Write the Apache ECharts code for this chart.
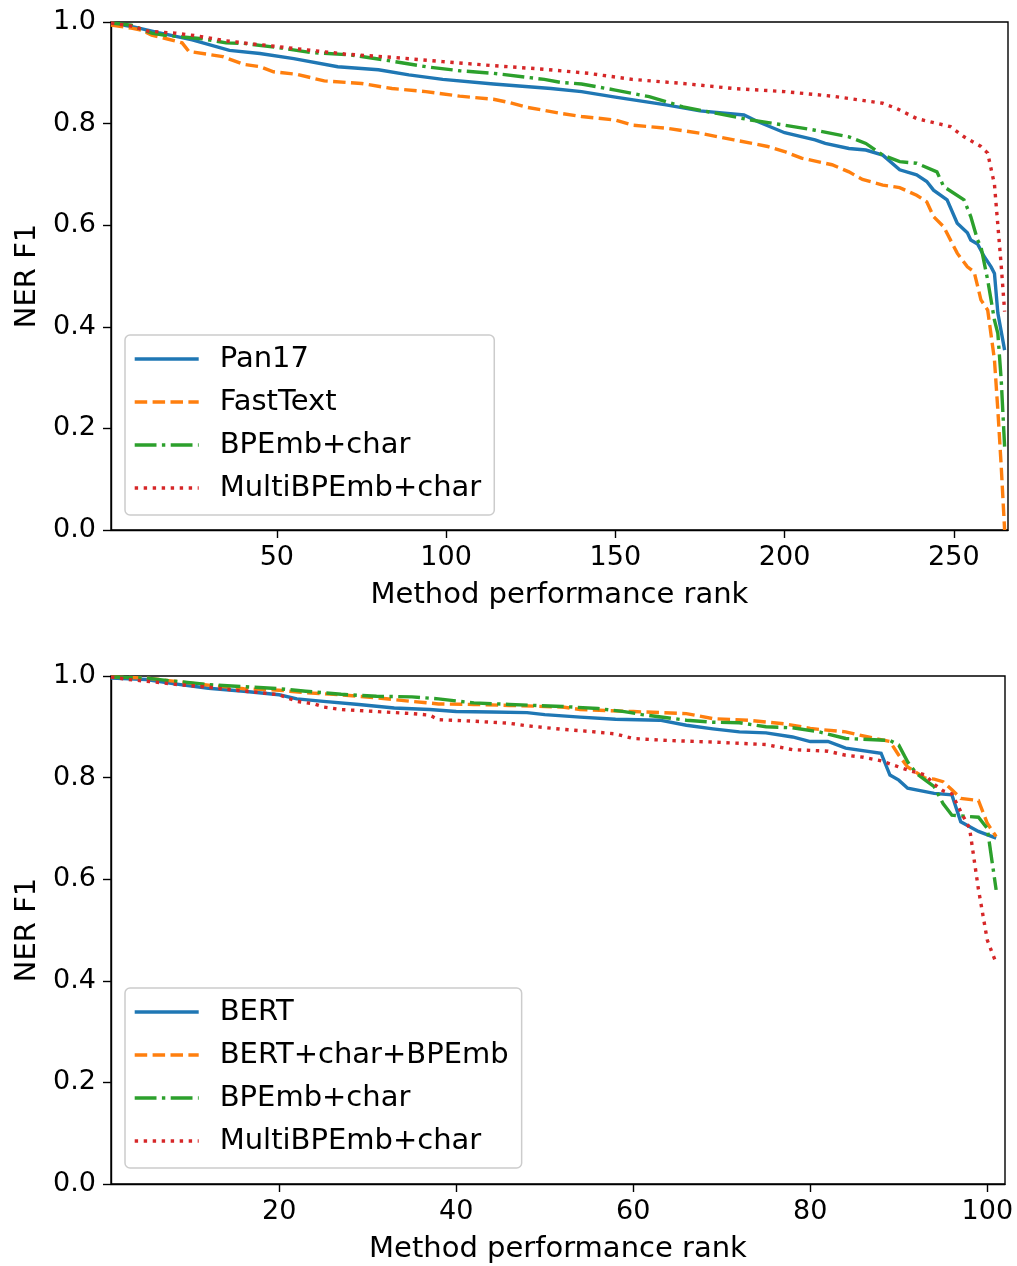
<!DOCTYPE html>
<html>
<head>
<meta charset="utf-8">
<script src="https://cdn.jsdelivr.net/npm/echarts@6/dist/echarts.min.js"></script>
<style>
html,body{margin:0;padding:0;background:#fff;}
#chart{width:1017px;height:1266px;}
</style>
</head>
<body>
<div id="chart"></div>
<script>
// ---- Top panel data: [rank, NER F1] ----
const topPan17 = [[1,0.998],[8,0.99],[15,0.979],[25,0.965],[36,0.944],[45,0.938],[55,0.928],[68,0.912],[80,0.906],[89,0.896],[99,0.887],[114,0.878],[131,0.869],[140,0.863],[150,0.852],[165,0.837],[175,0.825],[188,0.817],[192,0.804],[200,0.782],[209,0.768],[212,0.761],[219,0.751],[224,0.748],[229,0.738],[234,0.709],[239,0.699],[242,0.686],[244,0.669],[248,0.65],[251,0.604],[254,0.585],[255,0.571],[257,0.563],[259,0.538],[261,0.518],[262,0.505],[263,0.427],[265,0.354]];
const topFastText = [[1,0.994],[7,0.988],[10,0.984],[13,0.974],[18,0.966],[22,0.959],[24,0.942],[30,0.936],[34,0.932],[40,0.917],[45,0.912],[49,0.902],[56,0.897],[64,0.884],[75,0.879],[84,0.869],[94,0.863],[104,0.854],[114,0.848],[119,0.841],[124,0.832],[134,0.82],[140,0.814],[150,0.807],[155,0.797],[165,0.791],[175,0.781],[185,0.768],[195,0.755],[200,0.745],[205,0.732],[214,0.719],[219,0.705],[223,0.69],[229,0.679],[234,0.674],[239,0.659],[242,0.646],[244,0.617],[247,0.597],[251,0.545],[254,0.518],[256,0.508],[258,0.453],[260,0.433],[262,0.335],[263,0.236],[264,0.125],[265,0.0]];
const topBPEmb = [[1,0.998],[7,0.994],[13,0.978],[17,0.974],[23,0.97],[28,0.967],[35,0.959],[40,0.958],[50,0.95],[60,0.94],[72,0.935],[83,0.924],[94,0.912],[104,0.904],[114,0.899],[129,0.887],[134,0.881],[140,0.878],[150,0.866],[160,0.853],[170,0.833],[180,0.82],[190,0.807],[200,0.797],[209,0.787],[219,0.774],[224,0.761],[229,0.738],[234,0.725],[239,0.722],[245,0.705],[247,0.676],[253,0.65],[255,0.617],[257,0.571],[258,0.558],[260,0.492],[262,0.413],[263,0.387],[264,0.295],[265,0.164]];
const topMulti = [[1,0.998],[7,0.992],[12,0.982],[20,0.978],[26,0.973],[35,0.963],[40,0.959],[55,0.948],[70,0.937],[85,0.93],[99,0.922],[114,0.914],[129,0.907],[142,0.899],[155,0.887],[170,0.879],[185,0.869],[200,0.863],[214,0.854],[229,0.84],[233,0.83],[239,0.81],[249,0.794],[253,0.774],[258,0.755],[260,0.742],[262,0.68],[263,0.6],[264,0.52],[265,0.43]];

// ---- Bottom panel data: [rank, NER F1] ----
const botBERT = [[1,0.996],[5,0.993],[8,0.985],[12,0.976],[16,0.97],[20,0.963],[22,0.955],[25,0.95],[29,0.944],[33,0.937],[37,0.934],[40,0.93],[44,0.929],[48,0.928],[50,0.924],[54,0.919],[58,0.915],[63,0.913],[66,0.903],[69,0.896],[72,0.89],[75,0.888],[78,0.88],[80,0.871],[82,0.871],[84,0.858],[88,0.848],[89,0.805],[90,0.795],[91,0.779],[94,0.769],[96,0.766],[97,0.713],[99,0.694],[101,0.681]];
const botBERTchar = [[1,0.998],[5,0.996],[8,0.99],[12,0.982],[16,0.975],[20,0.972],[23,0.967],[27,0.963],[31,0.957],[35,0.95],[38,0.945],[42,0.944],[46,0.942],[52,0.939],[54,0.934],[60,0.93],[66,0.926],[69,0.916],[73,0.913],[77,0.906],[80,0.897],[81,0.895],[84,0.89],[86,0.882],[89,0.871],[90,0.844],[91,0.821],[93,0.799],[94,0.797],[95,0.792],[96,0.776],[97,0.759],[99,0.755],[100,0.71],[101,0.684]];
const botBPEmb = [[1,0.998],[5,0.996],[8,0.99],[11,0.985],[12,0.983],[20,0.975],[23,0.97],[27,0.964],[31,0.96],[35,0.959],[38,0.955],[42,0.947],[46,0.944],[52,0.94],[56,0.936],[59,0.93],[61,0.924],[66,0.913],[69,0.909],[72,0.908],[75,0.9],[78,0.898],[81,0.89],[84,0.877],[89,0.873],[90,0.864],[91,0.831],[92,0.808],[93,0.795],[94,0.782],[95,0.749],[96,0.726],[99,0.722],[100,0.7],[101,0.579]];
const botMulti = [[1,0.998],[3,0.993],[6,0.988],[8,0.984],[10,0.981],[12,0.978],[15,0.972],[18,0.967],[20,0.963],[22,0.95],[24,0.945],[25,0.939],[27,0.934],[31,0.93],[35,0.926],[37,0.923],[38,0.914],[42,0.911],[46,0.907],[48,0.902],[52,0.895],[55,0.891],[58,0.886],[60,0.877],[64,0.873],[69,0.87],[75,0.865],[78,0.855],[82,0.852],[84,0.844],[86,0.84],[88,0.833],[90,0.821],[91,0.815],[93,0.805],[94,0.787],[95,0.774],[96,0.768],[97,0.733],[98,0.7],[99,0.58],[100,0.48],[101,0.435]];

// ---- tick labels ----
const topXTicks = [50, 100, 150, 200, 250];
const botXTicks = [20, 40, 60, 80, 100];
const topNames = ['Pan17', 'FastText', 'BPEmb+char', 'MultiBPEmb+char'];
const botNames = ['BERT', 'BERT+char+BPEmb', 'BPEmb+char', 'MultiBPEmb+char'];

const FONT = 'DejaVu Sans';
const LW = 3.4;
const styles = [
  {color: '#1f77b4', type: 'solid'},
  {color: '#ff7f0e', type: [12.5, 5.4]},
  {color: '#2ca02c', type: [21.8, 5.4, 3.4, 5.4]},
  {color: '#d62728', type: [3.4, 5.6]}
];

function mkSeries(name, data, idx, styleIdx) {
  const s = styles[styleIdx];
  return {
    type: 'line', name: name, data: data,
    xAxisIndex: idx, yAxisIndex: idx,
    symbol: 'none', showSymbol: false,
    color: s.color,
    lineStyle: {color: s.color, width: LW, type: s.type, cap: 'butt', join: 'miter'},
    z: 2 + styleIdx
  };
}

function mkX(idx, min, max, ticks) {
  return {
    type: 'value', gridIndex: idx, min: min, max: max,
    name: 'Method performance rank', nameLocation: 'middle', nameGap: 51,
    nameTextStyle: {fontFamily: FONT, fontSize: 29, color: '#000'},
    axisLine: {show: true, onZero: false, lineStyle: {color: '#000', width: 1.4}},
    axisTick: {show: true, length: 8, lineStyle: {color: '#000', width: 1.4}, customValues: ticks},
    axisLabel: {fontFamily: FONT, fontSize: 27, color: '#000', margin: 14, customValues: ticks},
    splitLine: {show: false}
  };
}
function mkY(idx) {
  return {
    type: 'value', gridIndex: idx, min: 0, max: 1, interval: 0.2,
    name: 'NER F1', nameLocation: 'middle', nameGap: 69, nameRotate: 90,
    nameTextStyle: {fontFamily: FONT, fontSize: 29, color: '#000'},
    axisLine: {show: true, onZero: false, lineStyle: {color: '#000', width: 1.4}},
    axisTick: {show: true, length: 8, lineStyle: {color: '#000', width: 1.4}},
    axisLabel: {fontFamily: FONT, fontSize: 27, color: '#000', margin: 15, formatter: v => v.toFixed(1)},
    splitLine: {show: false}
  };
}
function mkLegend(names, left, top) {
  return {
    orient: 'vertical', left: left, top: top, data: names,
    itemWidth: 64, itemHeight: 14, itemGap: 13,
    padding: [9, 13, 12, 8],
    borderColor: '#cccccc', borderWidth: 1.5, borderRadius: 5,
    backgroundColor: 'rgba(255,255,255,0.8)',
    selectedMode: false,
    itemStyle: {opacity: 0, borderWidth: 0},
    lineStyle: {width: LW, type: 'inherit', cap: 'butt'},
    textStyle: {fontFamily: FONT, fontSize: 29, color: '#000', lineHeight: 30, padding: [0, 0, 0, 16]}
  };
}

const chart = echarts.init(document.getElementById('chart'), null, {renderer: 'canvas'});
chart.setOption({
  animation: false,
  backgroundColor: '#fff',
  grid: [
    {left: 111, top: 22, width: 897, height: 508, show: true, borderColor: '#000', borderWidth: 1.4, backgroundColor: 'transparent', outerBoundsMode: 'none', containLabel: false},
    {left: 111, top: 676, width: 894, height: 508, show: true, borderColor: '#000', borderWidth: 1.4, backgroundColor: 'transparent', outerBoundsMode: 'none', containLabel: false}
  ],
  xAxis: [mkX(0, 1, 266, topXTicks), mkX(1, 1, 102, botXTicks)],
  yAxis: [mkY(0), mkY(1)],
  legend: [mkLegend(topNames, 125, 335), mkLegend(botNames, 125, 988)],
  series: [
    mkSeries(topNames[0], topPan17, 0, 0),
    mkSeries(topNames[1], topFastText, 0, 1),
    mkSeries(topNames[2], topBPEmb, 0, 2),
    mkSeries(topNames[3], topMulti, 0, 3),
    mkSeries(botNames[0], botBERT, 1, 0),
    mkSeries(botNames[1], botBERTchar, 1, 1),
    mkSeries(botNames[2], botBPEmb, 1, 2),
    mkSeries(botNames[3], botMulti, 1, 3)
  ]
});
</script>
</body>
</html>
